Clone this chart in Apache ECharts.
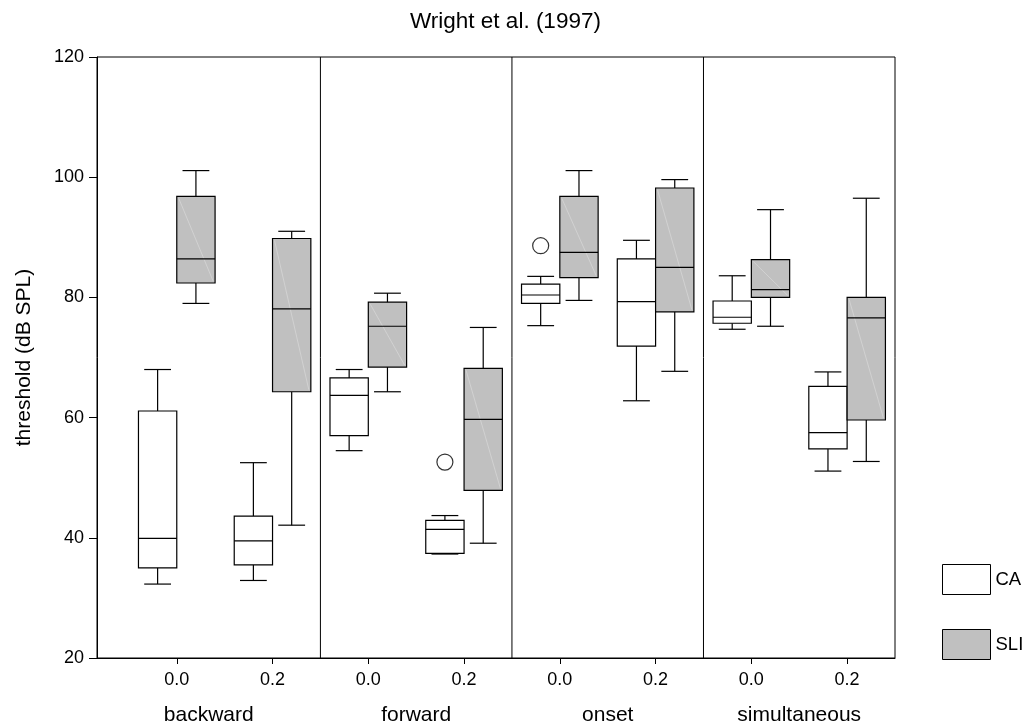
<!DOCTYPE html>
<html>
<head>
<meta charset="utf-8">
<script src="https://cdn.jsdelivr.net/npm/echarts@6/dist/echarts.min.js"></script>
<style>
  html, body { margin: 0; padding: 0; background: #fff; }
  #chart { width: 1025px; height: 726px; }
</style>
</head>
<body>
<div id="chart"></div>
<script>
// ---- data ----
const panels = ['backward', 'forward', 'onset', 'simultaneous'];
const tickLabels = ['0.0', '0.2', '0.0', '0.2', '0.0', '0.2', '0.0', '0.2'];
const groups = ['CA', 'SLI'];
// [min, q1, median, q3, max] for each of the 8 panel/delay positions
const caStats = [
  [32.3, 35.0, 39.9, 61.1, 68.0],
  [32.9, 35.5, 39.5, 43.6, 52.5],
  [54.5, 57.0, 63.7, 66.6, 68.0],
  [37.3, 37.4, 41.4, 42.9, 43.7],
  [75.3, 79.0, 80.4, 82.2, 83.5],
  [62.8, 71.9, 79.3, 86.4, 89.5],
  [74.7, 75.7, 76.7, 79.4, 83.6],
  [51.1, 54.8, 57.5, 65.2, 67.6]
];
const sliStats = [
  [79.0, 82.4, 86.4, 96.8, 101.1],
  [42.1, 64.3, 78.1, 89.8, 91.0],
  [64.3, 68.4, 75.2, 79.2, 80.7],
  [39.1, 47.9, 59.7, 68.2, 75.0],
  [79.5, 83.3, 87.5, 96.8, 101.1],
  [67.7, 77.6, 85.0, 98.2, 99.6],
  [75.2, 80.0, 81.3, 86.3, 94.6],
  [52.7, 59.6, 76.6, 80.0, 96.5]
];
// outliers: [position index, value]
const caOutliers = [[3, 52.6], [4, 88.6]];
const sliOutliers = [];
// panel boundaries along the x scale
const panelBounds = [-0.833, 1.5, 3.5, 5.5, 7.5];

// ---- layout constants ----
const BOX_W = 0.4;
const CA_OFF = -0.2, SLI_OFF = 0.2;
const positions = tickLabels.map((_, i) => i);
const panelCenters = panels.map((_, i) => (panelBounds[i] + panelBounds[i + 1]) / 2);
const dividers = panelBounds.slice(1, -1);

function toRows(stats) { return stats.map((s, i) => [i].concat(s)); }

function boxRenderer(offset, fill, diag) {
  return function (params, api) {
    const x = api.value(0) + offset;
    const w = api.size([BOX_W, 0])[0];
    const cap = w * 0.7;
    const pMin = api.coord([x, api.value(1)]);
    const pQ1 = api.coord([x, api.value(2)]);
    const pMed = api.coord([x, api.value(3)]);
    const pQ3 = api.coord([x, api.value(4)]);
    const pMax = api.coord([x, api.value(5)]);
    const cx = pMin[0];
    const l = cx - w / 2, r = cx + w / 2;
    const ls = { stroke: '#000', lineWidth: 1.2 };
    const ch = [
      { type: 'line', shape: { x1: cx, y1: pQ3[1], x2: cx, y2: pMax[1] }, style: ls },
      { type: 'line', shape: { x1: cx, y1: pQ1[1], x2: cx, y2: pMin[1] }, style: ls },
      { type: 'line', shape: { x1: cx - cap / 2, y1: pMax[1], x2: cx + cap / 2, y2: pMax[1] }, style: ls },
      { type: 'line', shape: { x1: cx - cap / 2, y1: pMin[1], x2: cx + cap / 2, y2: pMin[1] }, style: ls },
      { type: 'rect', shape: { x: l, y: pQ3[1], width: w, height: pQ1[1] - pQ3[1] },
        style: { fill: fill, stroke: '#000', lineWidth: 1.2 } }
    ];
    if (diag) {
      ch.push({ type: 'line', shape: { x1: l + 2, y1: pQ3[1] + 2, x2: r - 2, y2: pQ1[1] - 2 },
        style: { stroke: '#d6d6d6', lineWidth: 0.8 } });
    }
    ch.push({ type: 'line', shape: { x1: l, y1: pMed[1], x2: r, y2: pMed[1] }, style: ls });
    return { type: 'group', children: ch };
  };
}

const chart = echarts.init(document.getElementById('chart'), null, { renderer: 'canvas' });
const FONT = 'Liberation Sans, Arial, sans-serif';

chart.setOption({
  animation: false,
  textStyle: { fontFamily: FONT, color: '#000' },
  title: {
    text: 'Wright et al. (1997)',
    left: 410, top: 10, padding: 0,
    textStyle: { fontFamily: FONT, fontSize: 22.5, fontWeight: 'normal', color: '#000' }
  },
  legend: {
    orient: 'vertical', left: 942, top: 564, padding: 0,
    itemWidth: 48, itemHeight: 30, itemGap: 34,
    textStyle: { fontFamily: FONT, fontSize: 18.5, color: '#000', padding: [0, 0, 0, 0] },
    data: [
      { name: 'CA', icon: 'rect', itemStyle: { color: '#fff', borderColor: '#000', borderWidth: 1 } },
      { name: 'SLI', icon: 'rect', itemStyle: { color: '#c0c0c0', borderColor: '#000', borderWidth: 1 } }
    ]
  },
  grid: { left: 97, right: 130, top: 57, bottom: 67, show: true, borderColor: '#000', borderWidth: 1, backgroundColor: 'transparent' },
  xAxis: [
    {
      type: 'value', min: panelBounds[0], max: panelBounds[panelBounds.length - 1], position: 'bottom',
      axisLine: { show: true, onZero: false, lineStyle: { color: '#000', width: 1 } },
      axisTick: { show: true, length: 6, lineStyle: { color: '#000' }, customValues: positions },
      axisLabel: { show: true, margin: 13, fontSize: 18, color: '#000', fontFamily: FONT,
        customValues: positions, formatter: v => tickLabels[Math.round(v)] },
      splitLine: { show: false }
    },
    {
      type: 'value', min: panelBounds[0], max: panelBounds[panelBounds.length - 1], position: 'bottom', offset: 0,
      axisLine: { show: false, onZero: false }, axisTick: { show: false }, splitLine: { show: false },
      axisLabel: { show: true, margin: 47, fontSize: 21, color: '#000', fontFamily: FONT,
        customValues: panelCenters, formatter: v => panels[panelCenters.findIndex(c => Math.abs(c - v) < 1e-6)] }
    }
  ],
  yAxis: {
    type: 'value', min: 20, max: 120, interval: 20,
    name: 'threshold (dB SPL)', nameLocation: 'middle', nameGap: 62, nameRotate: 90,
    nameTextStyle: { fontFamily: FONT, fontSize: 21, color: '#000' },
    axisLine: { show: true, onZero: false, lineStyle: { color: '#000', width: 1 } },
    axisTick: { show: true, length: 8, lineStyle: { color: '#000' } },
    axisLabel: { margin: 13, fontSize: 18, color: '#000', fontFamily: FONT },
    splitLine: { show: false }
  },
  series: [
    {
      name: 'dividers', type: 'custom', silent: true,
      data: dividers.map(d => [d, 20, 120]),
      encode: { x: 0, y: [1, 2] },
      renderItem: function (params, api) {
        const a = api.coord([api.value(0), 120]);
        const b = api.coord([api.value(0), 20]);
        return { type: 'line', shape: { x1: a[0], y1: a[1], x2: b[0], y2: b[1] }, style: { stroke: '#000', lineWidth: 1 } };
      }
    },
    {
      name: 'CA', type: 'custom',
      itemStyle: { color: '#fff', borderColor: '#000' },
      data: toRows(caStats), encode: { x: 0, y: [1, 2, 3, 4, 5] },
      renderItem: boxRenderer(CA_OFF, '#fff', false)
    },
    {
      name: 'SLI', type: 'custom',
      itemStyle: { color: '#c0c0c0', borderColor: '#000' },
      data: toRows(sliStats), encode: { x: 0, y: [1, 2, 3, 4, 5] },
      renderItem: boxRenderer(SLI_OFF, '#c0c0c0', true)
    },
    {
      name: 'CA outliers', type: 'scatter', symbol: 'circle', symbolSize: 16,
      itemStyle: { color: '#fff', borderColor: '#000', borderWidth: 1.2 },
      data: caOutliers.map(o => [o[0] + CA_OFF, o[1]]).concat(sliOutliers.map(o => [o[0] + SLI_OFF, o[1]]))
    }
  ]
});
</script>
</body>
</html>
